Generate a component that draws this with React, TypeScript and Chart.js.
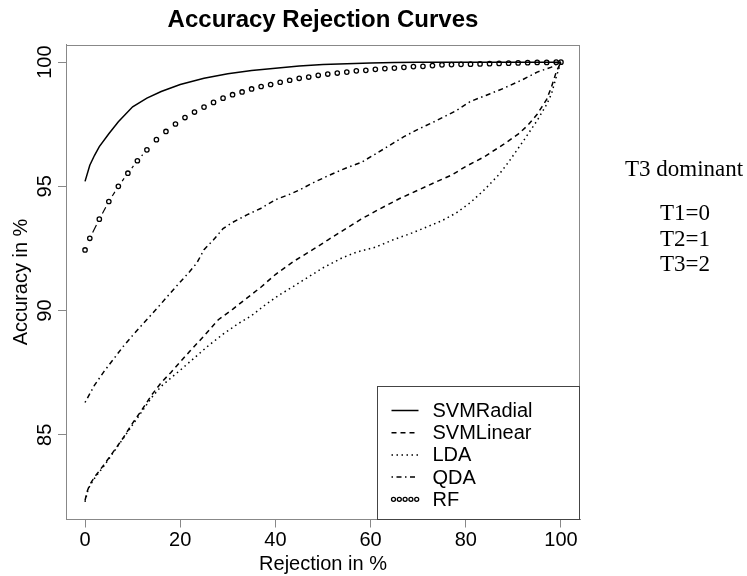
import React, { useEffect, useRef } from "react";
import { Chart, registerables } from "chart.js";

Chart.register(...registerables);

const chartTitle = "Accuracy Rejection Curves";
const xAxisTitle = "Rejection in %";
const yAxisTitle = "Accuracy in %";
const xTickValues = [0, 20, 40, 60, 80, 100];
const yTickValues = [85, 90, 95, 100];
const seriesNames = ["SVMRadial", "SVMLinear", "LDA", "QDA", "RF"];
const sideTitle = "T3 dominant";
const sideLines = ["T1=0", "T2=1", "T3=2"];

const svmRadialX = [0, 1, 2, 3, 5, 7, 10, 13, 16, 20, 25, 30, 35, 40, 45, 50, 55, 60, 65, 70, 80, 90, 100];
const svmRadialY = [95.2, 95.85, 96.25, 96.6, 97.12, 97.6, 98.2, 98.55, 98.82, 99.1, 99.35, 99.53, 99.66, 99.75, 99.84, 99.9, 99.94, 99.97, 99.99, 100, 100, 100, 100];

const svmLinearX = [0, 0.5, 1, 2, 4, 6, 8, 10, 12, 14, 16, 18, 20, 22, 25, 28, 31, 34, 37, 40, 44, 48, 51, 55, 58, 62, 66, 70, 74, 77, 80, 84, 88, 91, 93, 95, 96, 97, 98, 99, 100];
const svmLinearY = [82.36, 82.75, 83.0, 83.3, 83.8, 84.33, 84.87, 85.47, 86.02, 86.6, 87.1, 87.5, 87.93, 88.36, 88.98, 89.63, 90.05, 90.5, 90.95, 91.45, 92.0, 92.47, 92.84, 93.32, 93.68, 94.1, 94.5, 94.85, 95.2, 95.45, 95.8, 96.2, 96.7, 97.1, 97.45, 97.9, 98.2, 98.5, 99.0, 99.6, 100];

const ldaX = [0, 0.5, 1, 2, 4, 6, 8, 10, 12, 14, 16, 18, 20, 23, 26, 29, 32, 35, 38, 41, 44, 47, 50, 54, 57, 61, 65, 68, 72, 75, 78, 81, 84, 87, 89, 92, 95, 97, 98, 99, 100];
const ldaY = [82.3, 82.7, 82.95, 83.25, 83.75, 84.3, 84.85, 85.4, 85.95, 86.5, 86.95, 87.28, 87.6, 88.1, 88.6, 89.05, 89.45, 89.8, 90.25, 90.65, 91.0, 91.36, 91.72, 92.12, 92.35, 92.55, 92.87, 93.07, 93.38, 93.62, 93.93, 94.35, 94.88, 95.48, 95.98, 96.8, 97.65, 98.3, 98.72, 99.4, 100];

const qdaX = [0, 2, 4, 6, 8, 10, 12, 14, 16, 18, 20, 22, 23.5, 25, 27, 29, 31, 34, 37, 40, 43, 45, 48, 51, 55, 58, 61, 64, 67, 70, 74, 78, 81, 85, 88, 92, 95, 98, 100];
const qdaY = [86.3, 87.0, 87.55, 88.05, 88.55, 89.0, 89.43, 89.85, 90.28, 90.72, 91.15, 91.57, 91.92, 92.45, 92.85, 93.3, 93.55, 93.85, 94.12, 94.46, 94.68, 94.85, 95.15, 95.42, 95.75, 95.96, 96.3, 96.65, 97.0, 97.3, 97.66, 98.05, 98.42, 98.72, 98.95, 99.3, 99.6, 99.8, 100];

const rfX = [0, 1, 3, 5, 7, 9, 11, 13, 15, 17, 19, 21, 23, 25, 27, 29, 31, 33, 35, 37, 39, 41, 43, 45, 47, 49, 51, 53, 55, 57, 59, 61, 63, 65, 67, 69, 71, 73, 75, 77, 79, 81, 83, 85, 87, 89, 91, 93, 95, 97, 99, 100];
const rfY = [92.44, 92.91, 93.68, 94.39, 95.0, 95.53, 96.03, 96.47, 96.88, 97.21, 97.51, 97.77, 97.99, 98.19, 98.38, 98.55, 98.69, 98.8, 98.92, 99.02, 99.1, 99.19, 99.27, 99.35, 99.4, 99.47, 99.52, 99.56, 99.6, 99.65, 99.67, 99.71, 99.74, 99.76, 99.79, 99.82, 99.83, 99.86, 99.89, 99.9, 99.91, 99.92, 99.93, 99.94, 99.95, 99.96, 99.97, 99.98, 99.99, 99.99, 100, 100];

const SANS = '"Liberation Sans", Arial, sans-serif';
const SERIF = '"Liberation Serif", "Times New Roman", serif';

const toPoints = (xs: number[], ys: number[]) => xs.map((x, i) => ({ x, y: ys[i] }));

const boxPlugin = {
  id: "rBox",
  afterDatasetsDraw(chart: any) {
    const { ctx, chartArea } = chart;
    ctx.save();
    ctx.strokeStyle = "#888";
    ctx.lineWidth = 1;
    const l = Math.round(chartArea.left) + 0.5;
    const t = Math.round(chartArea.top) + 0.5;
    const r = Math.round(chartArea.right) - 0.5;
    const b = Math.round(chartArea.bottom) - 0.5;
    ctx.strokeRect(l, t, r - l, b - t);
    ctx.restore();
  },
};

const legendPlugin = {
  id: "rLegend",
  afterDraw(chart: any) {
    const { ctx, chartArea } = chart;
    const w = 203;
    const h = 134;
    const left = Math.round(chartArea.right - w) + 0.5;
    const top = Math.round(chartArea.bottom - h) + 0.5;
    ctx.save();
    ctx.fillStyle = "#fff";
    ctx.fillRect(left, top, w - 1, h - 1);
    ctx.strokeStyle = "#444";
    ctx.lineWidth = 1;
    ctx.strokeRect(left, top, w - 1, h - 1);
    ctx.font = `20px ${SANS}`;
    ctx.textBaseline = "middle";
    ctx.textAlign = "left";
    chart.data.datasets.forEach((ds: any, i: number) => {
      const y = top + 24 + i * 22.2;
      const x0 = left + 14;
      const x1 = left + 41;
      ctx.strokeStyle = "#000";
      if (ds.pointRadius > 0) {
        ctx.lineWidth = 1.3;
        ctx.setLineDash([]);
        for (let k = 0; k < 5; k++) {
          ctx.beginPath();
          ctx.arc(x0 + 2 + k * 5.8, y, 2, 0, Math.PI * 2);
          ctx.stroke();
        }
      } else {
        ctx.lineWidth = ds.borderWidth;
        ctx.setLineDash(ds.borderDash || []);
        ctx.beginPath();
        ctx.moveTo(x0, y);
        ctx.lineTo(x1, y);
        ctx.stroke();
      }
      ctx.setLineDash([]);
      ctx.fillStyle = "#000";
      ctx.fillText(ds.label, left + 55, y + 1);
    });
    ctx.restore();
  },
};

export default function App() {
  const canvasRef = useRef<HTMLCanvasElement | null>(null);

  useEffect(() => {
    if (!canvasRef.current) return;
    const common = { borderColor: "#000", pointRadius: 0, borderWidth: 1.5, tension: 0, fill: false };
    const chart = new Chart(canvasRef.current, {
      type: "line",
      data: {
        datasets: [
          { ...common, label: seriesNames[0], data: toPoints(svmRadialX, svmRadialY), borderDash: [] },
          { ...common, label: seriesNames[1], data: toPoints(svmLinearX, svmLinearY), borderDash: [5, 4] },
          { ...common, label: seriesNames[2], data: toPoints(ldaX, ldaY), borderDash: [1.5, 3.5] },
          { ...common, label: seriesNames[3], data: toPoints(qdaX, qdaY), borderDash: [1.5, 3.5, 5, 3.5] },
          {
            label: seriesNames[4],
            data: toPoints(rfX, rfY),
            borderColor: "#000",
            borderWidth: 1.2,
            pointRadius: 2.2,
            pointBorderWidth: 1.3,
            pointBorderColor: "#000",
            pointBackgroundColor: "rgba(0,0,0,0)",
            tension: 0,
            fill: false,
            segment: {
              borderDash: (c: any) => {
                const L = Math.hypot(c.p1.x - c.p0.x, c.p1.y - c.p0.y);
                const g = 6.5;
                return L > 2 * g + 1 ? [0, g, L - 2 * g, 10000] : [0, 10000];
              },
            },
          },
        ],
      } as any,
      options: {
        animation: false,
        responsive: false,
        devicePixelRatio: 1,
        events: [],
        layout: { padding: { left: 0, right: 167, top: 0, bottom: 0 } },
        plugins: {
          legend: { display: false },
          tooltip: { enabled: false },
          title: {
            display: true,
            text: chartTitle,
            fullSize: false,
            color: "#000",
            font: { family: SANS, size: 24, weight: "bold", lineHeight: 1.2 },
            padding: { top: 6, bottom: 9.7 },
          },
        },
        scales: {
          x: {
            type: "linear",
            min: -4,
            max: 104,
            afterBuildTicks: (s: any) => {
              s.ticks = xTickValues.map((v) => ({ value: v }));
            },
            afterFit: (s: any) => {
              s.height = 56.5;
            },
            grid: { drawOnChartArea: false, drawTicks: true, tickLength: 8, color: "#888", lineWidth: 1 },
            border: { display: true, color: "#888", width: 1 },
            ticks: {
              autoSkip: false,
              maxRotation: 0,
              minRotation: 0,
              padding: 0.5,
              color: "#000",
              font: { family: SANS, size: 20, lineHeight: 1.2 },
              callback: (v: any) => String(v),
            },
            title: {
              display: true,
              text: xAxisTitle,
              color: "#000",
              font: { family: SANS, size: 20, lineHeight: 1.2 },
              padding: { top: 0, bottom: 0 },
            },
          },
          y: {
            type: "linear",
            min: 81.59,
            max: 100.71,
            afterBuildTicks: (s: any) => {
              s.ticks = yTickValues.map((v) => ({ value: v }));
            },
            afterFit: (s: any) => {
              s.width = 66;
            },
            grid: { drawOnChartArea: false, drawTicks: true, tickLength: 8, color: "#888", lineWidth: 1 },
            border: { display: true, color: "#888", width: 1 },
            ticks: {
              autoSkip: false,
              minRotation: 90,
              maxRotation: 90,
              crossAlign: "center",
              padding: -3.7,
              color: "#000",
              font: { family: SANS, size: 20, lineHeight: 1.2 },
              callback: (v: any) => String(v),
            },
            title: {
              display: true,
              text: yAxisTitle,
              color: "#000",
              font: { family: SANS, size: 20, lineHeight: 1.2 },
              padding: { top: 9, bottom: 0 },
            },
          },
        },
      } as any,
      plugins: [boxPlugin, legendPlugin],
    });
    return () => chart.destroy();
  }, []);

  const sideStyle: React.CSSProperties = {
    position: "absolute",
    fontFamily: SERIF,
    fontSize: "23px",
    lineHeight: "23px",
    whiteSpace: "nowrap",
    color: "#000",
  };

  return (
    <div style={{ position: "absolute", left: 0, top: 0, width: 747, height: 576, background: "#fff" }}>
      <canvas ref={canvasRef} width={747} height={576} style={{ display: "block", width: 747, height: 576 }} />
      <div style={{ ...sideStyle, left: 625, top: 156.7 }}>{sideTitle}</div>
      {sideLines.map((t, i) => (
        <div key={t} style={{ ...sideStyle, left: 660, top: 200.7 + i * 25.8 }}>
          {t}
        </div>
      ))}
    </div>
  );
}
